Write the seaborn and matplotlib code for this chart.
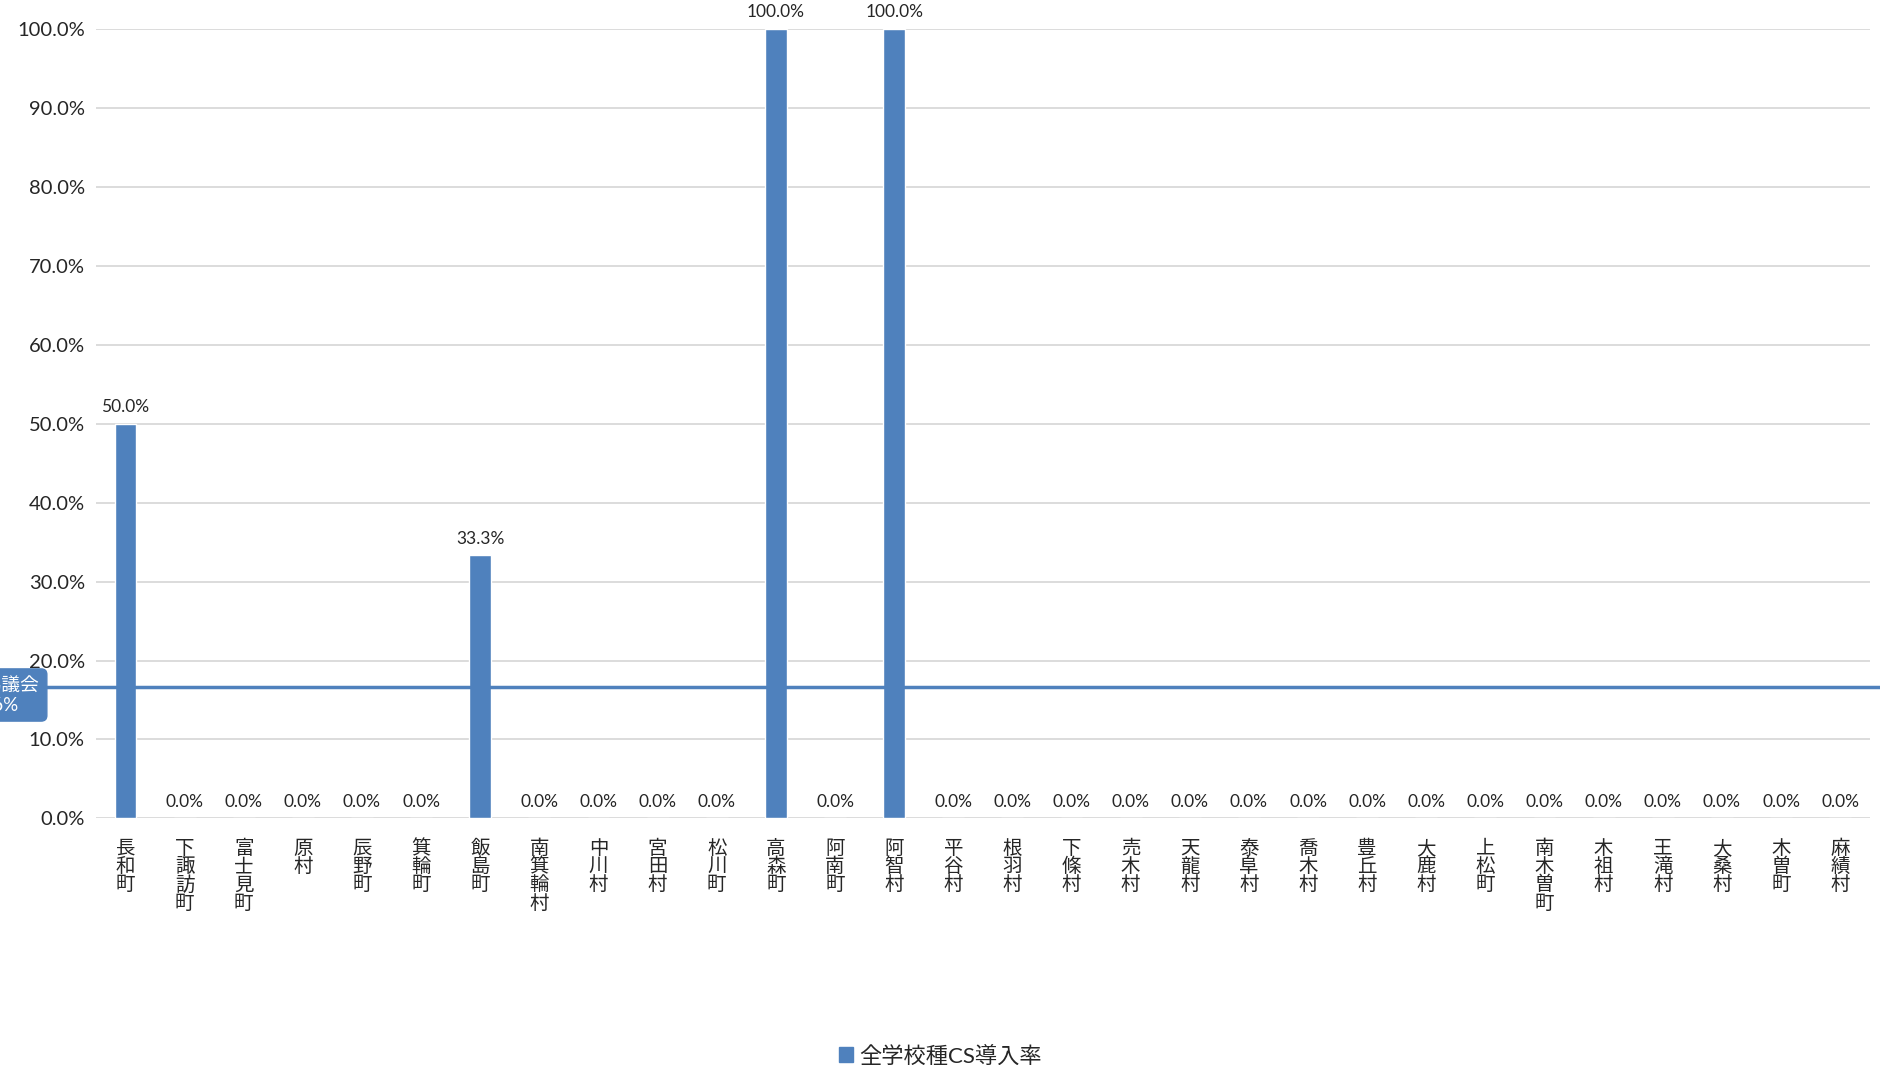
import pandas as pd
import seaborn as sns
import matplotlib.pyplot as plt
from matplotlib.patches import Patch

towns = ["長和町", "下諏訪町", "富士見町", "原村", "辰野町", "箕輪町", "飯島町",
         "南箕輪村", "中川村", "宮田村", "松川町", "高森町", "阿南町", "阿智村",
         "平谷村", "根羽村", "下條村", "売木村", "天龍村", "泰阜村", "喬木村",
         "豊丘村", "大鹿村", "上松町", "南木曽町", "木祖村", "王滝村", "大桑村",
         "木曽町", "麻績村"]
rates = [50.0, 0, 0, 0, 0, 0, 33.3, 0, 0, 0, 0, 100.0, 0, 100.0,
         0, 0, 0, 0, 0, 0, 0, 0, 0, 0, 0, 0, 0, 0, 0, 0]
avg_rate = 16.6
avg_label = "地域協議会\n16.6%"
series_name = "全学校種CS導入率"

blue = "#4f81bd"

sns.set_theme(style="white")
plt.rcParams["font.family"] = ["Lato", "Noto Sans CJK JP", "DejaVu Sans"]

df = pd.DataFrame({"town": towns, "rate": rates})

fig = plt.figure(figsize=(18.81, 10.65), dpi=100)
ax = fig.add_axes([0.051, 0.2315, 0.943, 0.7415])

sns.barplot(data=df, x="town", y="rate", color=blue, width=0.37,
            saturation=1, ax=ax)

ax.set_ylim(0, 100)
ax.set_yticks(range(0, 101, 10))
ax.set_yticklabels([f"{v:.1f}%" for v in range(0, 101, 10)], fontsize=14.5)
ax.yaxis.grid(True, color="#d9d9d9", linewidth=1.3)
ax.set_axisbelow(True)
for s in ax.spines.values():
    s.set_visible(False)
ax.tick_params(axis="y", length=0, pad=8)
ax.tick_params(axis="x", length=0, pad=14)
ax.set_xlabel("")
ax.set_ylabel("")
ax.set_xlim(-0.5, len(towns) - 0.5)

ax.set_xticks(range(len(towns)))
ax.set_xticklabels(["\n".join(t) for t in towns], fontsize=14,
                   family=["Noto Sans CJK JP"], linespacing=0.83, va="top")

ax.bar_label(ax.containers[0], labels=[f"{v:.1f}%" for v in rates],
             padding=6, fontsize=12.5)

# average line across the whole width
ax.axhline(avg_rate, xmin=-0.06, xmax=1.01, color=blue, linewidth=2.5,
           clip_on=False, zorder=1)
fig.text(-0.004, 1 - 695 / 1065, avg_label, ha="center", va="center",
         fontsize=13.5, color="white", linespacing=1.2,
         bbox=dict(boxstyle="round,pad=0.4,rounding_size=0.3",
                   fc=blue, ec=blue))

fig.legend(handles=[Patch(color=blue, label=series_name)],
           loc="lower center", bbox_to_anchor=(0.5, -0.02), frameon=False,
           fontsize=16, handlelength=0.6, handleheight=0.6,
           handletextpad=0.3)

fig.savefig("out.png", dpi=100)
